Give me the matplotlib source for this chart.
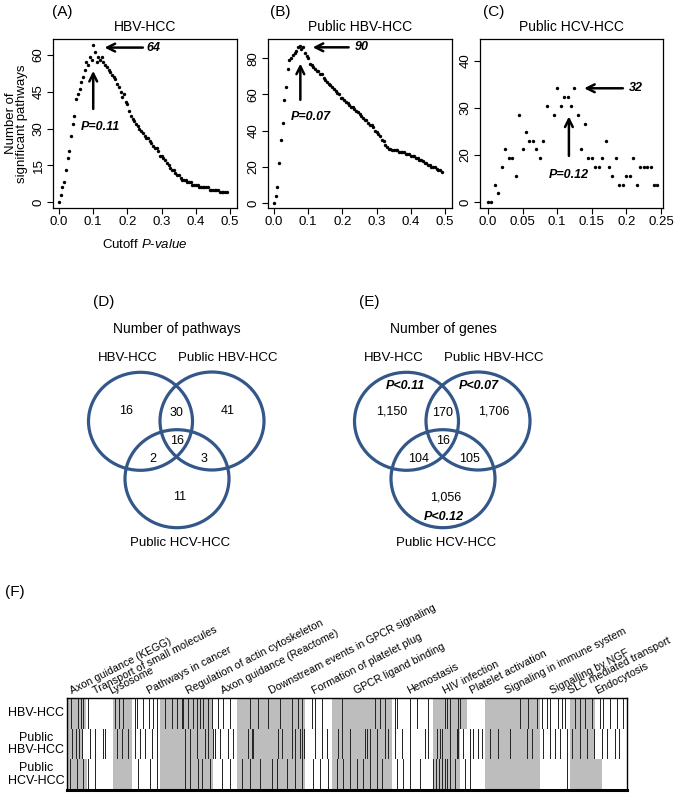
import numpy as np
import matplotlib
matplotlib.use('Agg')
from matplotlib import pyplot as plt
from matplotlib.patches import Ellipse
from matplotlib.colors import ListedColormap
from matplotlib.transforms import blended_transform_factory

plt.rcParams['font.family'] = ['Liberation Sans', 'DejaVu Sans']
plt.rcParams['mathtext.fontset'] = 'custom'
plt.rcParams['mathtext.rm'] = 'Liberation Sans'
plt.rcParams['mathtext.it'] = 'Liberation Sans:italic'

# ---- data: panels A-C (number of significant pathways vs cutoff) ----
cutoff_ab = np.round(np.arange(0, 0.491, 0.005), 3)
hbv_counts = [0, 3, 6, 8, 13, 18, 21, 27, 32, 35, 42, 44, 46, 49, 51, 54, 57, 56, 59, 58,
              64, 61, 57, 59, 58, 59, 57, 56, 55, 54, 53, 52, 51, 50, 48, 47, 45, 43, 44, 41,
              40, 37, 35, 34, 33, 32, 31, 30, 29, 28, 27, 26, 26, 25, 24, 23, 22, 22, 21, 19,
              19, 18, 17, 16, 15, 14, 13, 13, 12, 11, 11, 10, 9, 9, 9, 8, 8, 8, 7, 7,
              7, 7, 6, 6, 6, 6, 6, 6, 5, 5, 5, 5, 5, 5, 4, 4, 4, 4, 4]
pub_hbv_counts = [0, 4, 9, 22, 35, 44, 57, 64, 74, 79, 80, 82, 83, 84, 86, 87, 85, 86, 83, 81,
                  80, 77, 76, 75, 74, 73, 73, 71, 71, 69, 68, 67, 66, 65, 64, 63, 62, 61, 60, 58,
                  58, 57, 56, 55, 54, 53, 53, 52, 51, 50, 49, 48, 47, 46, 46, 44, 43, 43, 42, 40,
                  39, 38, 37, 35, 34, 32, 31, 30, 30, 29, 29, 29, 29, 28, 28, 28, 28, 27, 27, 27,
                  26, 26, 26, 25, 25, 24, 24, 23, 22, 22, 21, 21, 20, 20, 20, 19, 18, 18, 17]
cutoff_c = [0.0, 0.005, 0.01, 0.015, 0.02, 0.025, 0.03, 0.035, 0.04, 0.045, 0.05, 0.055,
            0.06, 0.065, 0.07, 0.075, 0.08, 0.085, 0.095, 0.1, 0.105, 0.11, 0.115, 0.12,
            0.125, 0.13, 0.135, 0.14, 0.145, 0.15, 0.155, 0.16, 0.165, 0.17, 0.175, 0.18,
            0.185, 0.19, 0.195, 0.2, 0.205, 0.21, 0.215, 0.22, 0.225, 0.23, 0.235, 0.24, 0.245]
# values as placed on the axis of panel C (its lowest tick is labelled "0")
pub_hcv_counts = [10.0, 10.0, 13.7, 11.9, 17.4, 21.2, 19.3, 19.3, 15.6, 28.6, 21.2, 24.9,
                  23.0, 23.0, 21.2, 19.3, 23.0, 30.5, 28.6, 34.2, 30.5, 32.3, 32.3, 30.5,
                  34.2, 28.6, 21.2, 26.7, 19.3, 19.3, 17.4, 17.4, 19.3, 23.0, 17.4, 15.6,
                  19.3, 13.7, 13.7, 15.6, 15.6, 19.3, 13.7, 17.4, 17.4, 17.4, 17.4, 13.7, 13.7]
c_ticks = [10, 20, 30, 40]
c_ticklabels = ['0', '20', '30', '40']

# ---- data: Venn diagrams ----
venn_sets = ['HBV-HCC', 'Public HBV-HCC', 'Public HCV-HCC']
# regions: only1, 1&2, only2, 1&2&3, 1&3, 2&3, only3
pathway_counts = ['16', '30', '41', '16', '2', '3', '11']
gene_counts = ['1,150', '170', '1,706', '16', '104', '105', '1,056']
gene_cutoffs = ['P<0.11', 'P<0.07', 'P<0.12']

# ---- data: barcode (F) ----
pathway_names = ['Axon guidance (KEGG)', 'Transport of small molecules', 'Lysosome',
                 'Pathways in cancer', 'Regulation of actin cytoskeleton',
                 'Axon guidance (Reactome)', 'Downstream events in GPCR signaling',
                 'Formation of platelet plug', 'GPCR ligand binding', 'Hemostasis',
                 'HIV infection', 'Platelet activation', 'Signaling in immune system',
                 'Signalling by NGF', 'SLC mediated transport', 'Endocytosis']
pathway_pos = [6, 29, 45, 83, 122, 157, 205, 248, 290, 343, 379, 406, 441, 486, 504, 531]
row_names = ['HBV-HCC', 'Public\nHBV-HCC', 'Public\nHCV-HCC']
n_genes = 560
grey_blocks = [
    [(1, 19), (46, 65), (93, 146), (170, 238), (265, 325), (366, 400), (418, 473), (503, 528)],
    [(1, 16), (46, 65), (93, 146), (170, 238), (265, 325), (366, 393), (418, 473), (503, 528)],
    [(1, 20), (46, 65), (93, 146), (170, 238), (265, 325), (366, 393), (418, 473), (503, 535)],
]
gene_hits = [
    [4, 11, 14, 16, 21, 48, 52, 56, 68, 70, 76, 82, 86, 90, 98, 105, 110, 115, 116, 121, 126,
     130, 133, 136, 141, 145, 151, 156, 163, 183, 191, 201, 213, 225, 231, 235, 245, 248, 255,
     275, 308, 313, 318, 328, 330, 343, 350, 361, 378, 380, 383, 391, 393, 453, 461, 470, 475,
     480, 483, 491, 495, 498, 508, 513, 518, 525, 533, 536, 543, 550, 556],
    [5, 9, 12, 15, 23, 28, 36, 38, 50, 55, 61, 68, 73, 78, 85, 90, 118, 123, 130, 138, 141,
     146, 148, 153, 161, 166, 181, 185, 186, 211, 215, 225, 228, 233, 235, 237, 248, 255, 260,
     271, 275, 283, 298, 300, 303, 310, 318, 321, 328, 335, 343, 358, 361, 370, 373, 375, 383,
     390, 391, 396, 403, 406, 411, 415, 423, 431, 443, 460, 465, 476, 483, 488, 493, 500, 505,
     513, 520, 527, 535, 540, 548, 552],
    [3, 10, 16, 21, 28, 71, 83, 90, 118, 123, 131, 135, 143, 155, 163, 175, 183, 193, 205, 210,
     220, 228, 235, 246, 253, 261, 270, 276, 283, 290, 296, 303, 310, 315, 330, 336, 343, 353,
     366, 369, 372, 375, 378, 380, 383, 388, 398, 403, 500],
]

fig = plt.figure(figsize=(6.85, 7.93), dpi=100)
W, H = 685.0, 793.0


def px_axes(left, top, right, bottom):
    return fig.add_axes([left / W, 1 - bottom / H, (right - left) / W, (bottom - top) / H])


def r_style(ax):
    ax.tick_params(direction='out', length=4, width=0.8, labelsize=9.5, pad=2)
    for s in ax.spines.values():
        s.set_linewidth(0.9)
    for lab in ax.get_yticklabels():
        lab.set_rotation(90)
        lab.set_va('center')


arrow_kw = dict(arrowstyle='->', lw=1.8, color='black', mutation_scale=14,
                shrinkA=0, shrinkB=0)
note_kw = dict(fontsize=9, fontweight='bold', style='italic')

# panel A
axA = px_axes(53, 39, 237, 208)
axA.scatter(cutoff_ab, hbv_counts, s=6, color='black', lw=0)
axA.set_xlim(-0.0175, 0.52)
axA.set_ylim(-2.4, 66.5)
axA.set_xticks([0, 0.1, 0.2, 0.3, 0.4, 0.5])
axA.set_xticklabels(['0.0', '0.1', '0.2', '0.3', '0.4', '0.5'])
axA.set_yticks([0, 15, 30, 45, 60])
r_style(axA)
axA.set_title('HBV-HCC', fontsize=10, pad=6)
axA.set_ylabel('Number of\nsignificant pathways', fontsize=9.5, labelpad=3, linespacing=1.0)
axA.set_xlabel(r'Cutoff $\mathit{P}$-$\mathit{value}$', fontsize=9.5, labelpad=7)
axA.annotate('', xy=(0.133, 63), xytext=(0.245, 63), arrowprops=arrow_kw)
axA.text(0.255, 63, '64', va='center', ha='left', **note_kw)
axA.annotate('', xy=(0.1, 53.5), xytext=(0.1, 38), arrowprops=arrow_kw)
axA.text(0.12, 30.5, 'P=0.11', va='center', ha='center', **note_kw)

# panel B
axB = px_axes(268, 39, 452, 208)
axB.scatter(cutoff_ab, pub_hbv_counts, s=6, color='black', lw=0)
axB.set_xlim(-0.0175, 0.52)
axB.set_ylim(-2.8, 90.6)
axB.set_xticks([0, 0.1, 0.2, 0.3, 0.4, 0.5])
axB.set_xticklabels(['0.0', '0.1', '0.2', '0.3', '0.4', '0.5'])
axB.set_yticks([0, 20, 40, 60, 80])
r_style(axB)
axB.set_title('Public HBV-HCC', fontsize=10, pad=6)
axB.annotate('', xy=(0.113, 86), xytext=(0.218, 86), arrowprops=arrow_kw)
axB.text(0.235, 86, '90', va='center', ha='left', **note_kw)
axB.annotate('', xy=(0.077, 77), xytext=(0.077, 57), arrowprops=arrow_kw)
axB.text(0.108, 47.5, 'P=0.07', va='center', ha='center', **note_kw)

# panel C
axC = px_axes(480, 39, 663, 208)
axC.scatter(cutoff_c, pub_hcv_counts, s=6, color='black', lw=0)
axC.set_xlim(-0.0115, 0.253)
axC.set_ylim(8.7, 44.7)
axC.set_xticks([0, 0.05, 0.1, 0.15, 0.2, 0.25])
axC.set_xticklabels(['0.0', '0.05', '0.1', '0.15', '0.2', '0.25'])
axC.set_yticks(c_ticks)
axC.set_yticklabels(c_ticklabels)
r_style(axC)
axC.set_title('Public HCV-HCC', fontsize=10, pad=6)
axC.annotate('', xy=(0.139, 34.2), xytext=(0.195, 34.2), arrowprops=arrow_kw)
axC.text(0.203, 34.2, '32', va='center', ha='left', **note_kw)
axC.annotate('', xy=(0.117, 28.2), xytext=(0.117, 19.8), arrowprops=arrow_kw)
axC.text(0.117, 15.8, 'P=0.12', va='center', ha='center', **note_kw)

for lab, x in zip(['(A)', '(B)', '(C)'], [52, 270, 483]):
    fig.text(x / W, 1 - 12 / H, lab, fontsize=11, va='center', ha='left')

# panels D and E: Venn diagrams drawn in pixel space
axV = fig.add_axes([0, 0, 1, 1])
axV.set_xlim(0, W)
axV.set_ylim(H, 0)
axV.axis('off')
venn_color = '#34578a'

def venn(cx, title, tag, counts, cutoffs=None):
    centres = [(cx - 36.5, 421.3), (cx + 35, 421.0), (cx, 478.7)]
    for (x, y) in centres:
        axV.add_patch(Ellipse((x, y), 104, 98, fill=False, ec=venn_color, lw=2.3))
    axV.text(cx - 84, 302, tag, fontsize=11, va='center', ha='left')
    axV.text(cx, 329, title, fontsize=10, va='center', ha='center')
    axV.text(cx - 49, 358, venn_sets[0], fontsize=9.5, va='center', ha='center')
    axV.text(cx + 51, 358, venn_sets[1], fontsize=9.5, va='center', ha='center')
    axV.text(cx + 3, 543, venn_sets[2], fontsize=9.5, va='center', ha='center')
    spots = [(cx - 51, 411), (cx, 413), (cx + 51, 411), (cx, 441),
             (cx - 24, 459), (cx + 27, 459), (cx + 3, 497)]
    for (x, y), c in zip(spots, counts):
        axV.text(x, y, c, fontsize=9, va='center', ha='center')
    if cutoffs:
        for (x, y), c in zip([(cx - 38, 386), (cx + 36, 386), (cx + 1, 517)], cutoffs):
            axV.text(x, y, c, va='center', ha='center', **note_kw)

venn(177, 'Number of pathways', '(D)', pathway_counts)
venn(443, 'Number of genes', '(E)', gene_counts, gene_cutoffs)

# panel F: barcode of gene membership
mat = np.zeros((3, n_genes))
for r in range(3):
    for a, b in grey_blocks[r]:
        mat[r, a:b] = 1
    for g in gene_hits[r]:
        mat[r, g] = 2
axF = px_axes(67, 698, 627, 790)
cmap = ListedColormap(['white', '#bdbdbd', '#262626'])
axF.imshow(mat, aspect='auto', cmap=cmap, vmin=0, vmax=2, interpolation='nearest',
           extent=(0, n_genes, 3, 0))
axF.set_xlim(0, n_genes)
axF.set_ylim(3, 0)
axF.set_xticks([])
axF.set_yticks([])
rows_tf = blended_transform_factory(axF.transAxes, axF.transData)
for r, name in enumerate(row_names):
    axF.text(-0.055, r + 0.5, name, transform=rows_tf, fontsize=9, linespacing=1.1,
             ha='center', va='center')
for s in axF.spines.values():
    s.set_linewidth(1.0)
axF.spines['bottom'].set_linewidth(2.2)
for name, p in zip(pathway_names, pathway_pos):
    axF.text(p, -0.08, name, rotation=27, rotation_mode='anchor', fontsize=7.7,
             ha='left', va='bottom')
fig.text(5 / W, 1 - 592 / H, '(F)', fontsize=11, va='center', ha='left')

fig.savefig('out.png', dpi=100)
